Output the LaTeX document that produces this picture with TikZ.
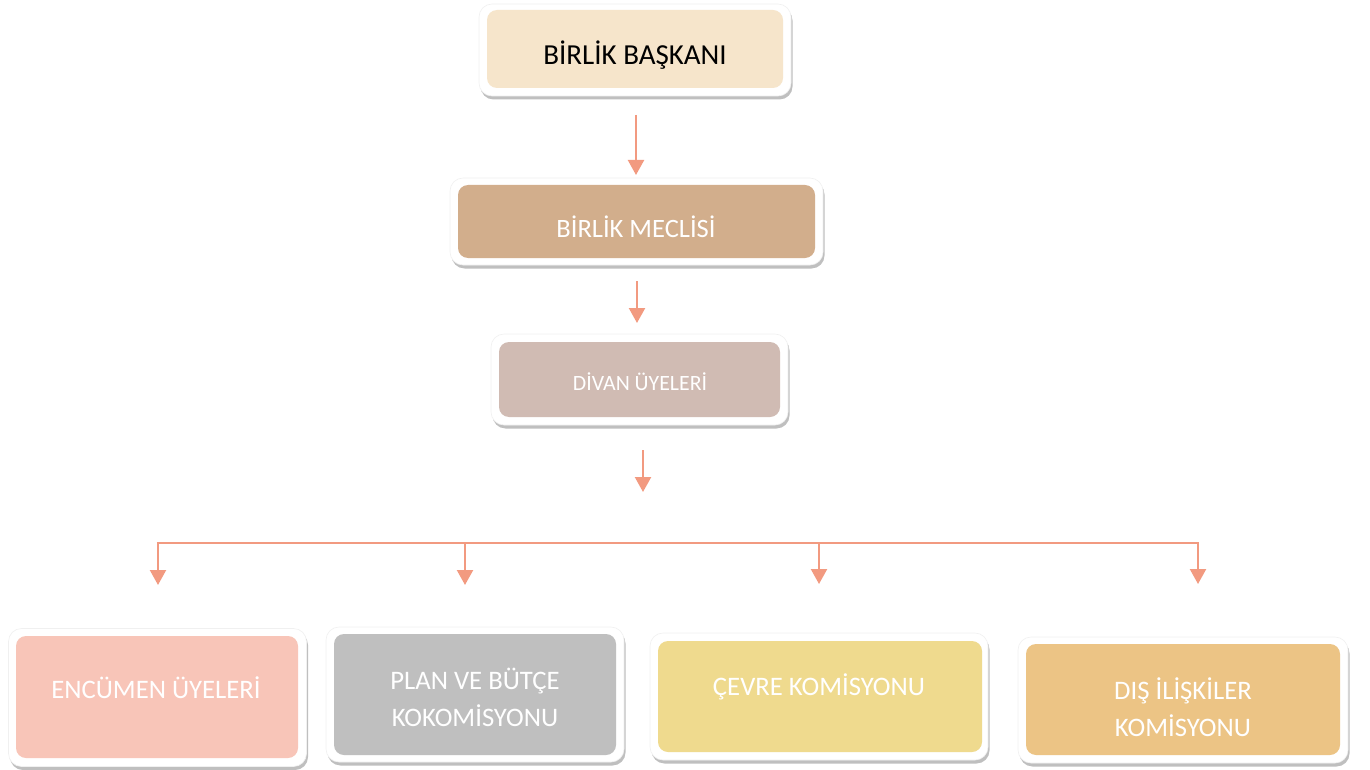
\documentclass[tikz,border=0pt]{standalone}
\usepackage{fontspec}
\setmainfont{Carlito}
\usetikzlibrary{arrows.meta,shadows}
\definecolor{arrc}{HTML}{F29A80}
\definecolor{cA}{HTML}{F6E5CB}
\definecolor{cB}{HTML}{D2AE8C}
\definecolor{cC}{HTML}{D0BBB3}
\definecolor{cD}{HTML}{F8C5B8}
\definecolor{cE}{HTML}{BFBFBF}
\definecolor{cF}{HTML}{EFDA8E}
\definecolor{cG}{HTML}{ECC485}
\tikzset{
  outerbox/.style={rectangle, rounded corners=13pt, fill=white, draw=black!6, line width=0.6pt,
    drop shadow={shadow xshift=1.5pt, shadow yshift=-3.5pt, fill=black, opacity=0.25},
    inner sep=0pt, outer sep=0pt},
  innerbox/.style={rectangle, rounded corners=10pt, inner sep=0pt, outer sep=0pt},
  lbl/.style={anchor=base, inner sep=0pt, text=white, font=\fontsize{26.7}{32}\selectfont, align=center},
  arr/.style={draw=arrc, line width=2.2pt, -{Triangle[width=16pt,length=15pt]}},
  busline/.style={draw=arrc, line width=2.2pt}
}
\begin{document}
\begin{tikzpicture}[x=1pt,y=-1pt]
\useasboundingbox (0,0) rectangle (1370,770);
% top box
\node[outerbox, minimum width=312pt, minimum height=92pt] (b1) at (635,50) {};
\node[innerbox, fill=cA, minimum width=296pt, minimum height=78pt] (i1) at (635,49) {};
\node[lbl, text=black, font=\fontsize{29}{34}\selectfont] (t1) at (635,65) {BİRLİK BAŞKANI};
% meclis
\node[outerbox, minimum width=373pt, minimum height=87pt] (b2) at (636.5,221.5) {};
\node[innerbox, fill=cB, minimum width=357pt, minimum height=73pt] (i2) at (636.5,221.5) {};
\node[lbl, font=\fontsize{26.5}{32}\selectfont] (t2) at (636,237) {BİRLİK MECLİSİ};
% divan
\node[outerbox, minimum width=297pt, minimum height=91pt] (b3) at (639.5,379.5) {};
\node[innerbox, fill=cC, minimum width=281pt, minimum height=75pt] (i3) at (639.5,379.5) {};
\node[lbl, font=\fontsize{21.8}{26}\selectfont] (t3) at (640,390) {DİVAN ÜYELERİ};
% bottom boxes
\node[outerbox, minimum width=298pt, minimum height=138pt] (b4) at (157.5,697.5) {};
\node[innerbox, fill=cD, minimum width=282pt, minimum height=122pt] (i4) at (157,697) {};
\node[lbl] (t4) at (156,698) {ENCÜMEN ÜYELERİ};

\node[outerbox, minimum width=298pt, minimum height=135pt] (b5) at (475,694.5) {};
\node[innerbox, fill=cE, minimum width=282pt, minimum height=121pt] (i5) at (475,694.5) {};
\node[lbl] (t5a) at (475,689) {PLAN VE BÜTÇE};
\node[lbl] (t5b) at (475,726) {KOKOMİSYONU};

\node[outerbox, minimum width=338pt, minimum height=127pt] (b6) at (819,696.5) {};
\node[innerbox, fill=cF, minimum width=324pt, minimum height=111pt] (i6) at (820,696.5) {};
\node[lbl] (t6) at (819,695) {ÇEVRE KOMİSYONU};

\node[outerbox, minimum width=330pt, minimum height=126pt] (b7) at (1183,700) {};
\node[innerbox, fill=cG, minimum width=314pt, minimum height=111pt] (i7) at (1183,699.5) {};
\node[lbl] (t7a) at (1183,699) {DIŞ İLİŞKİLER};
\node[lbl] (t7b) at (1183,736) {KOMİSYONU};

% connectors
\coordinate (a1s) at (636,115);
\coordinate (a1e) at (636,175);
\coordinate (a2s) at (637,281);
\coordinate (a2e) at (637,323);
\coordinate (a3s) at (643,450);
\coordinate (a3e) at (643,492);
\draw[arr] (a1s) -- (a1e);
\draw[arr] (a2s) -- (a2e);
\draw[arr] (a3s) -- (a3e);

\coordinate (bus1) at (158,543);
\coordinate (bus2) at (465,543);
\coordinate (bus3) at (819,543);
\coordinate (bus4) at (1198,543);
\coordinate (d1) at (158,585);
\coordinate (d2) at (465,585);
\coordinate (d3) at (819,584);
\coordinate (d4) at (1198,584);
\draw[busline] ([xshift=-1.1pt]bus1) -- ([xshift=1.1pt]bus4);
\draw[arr] (bus1) -- (d1);
\draw[arr] (bus2) -- (d2);
\draw[arr] (bus3) -- (d3);
\draw[arr] (bus4) -- (d4);
\end{tikzpicture}
\end{document}
